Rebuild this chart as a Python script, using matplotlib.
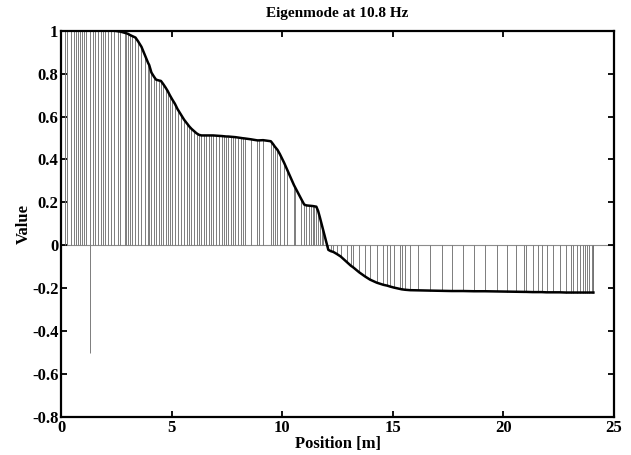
import numpy as np
import matplotlib
matplotlib.use("Agg")
import matplotlib.pyplot as plt
from matplotlib.ticker import FuncFormatter

# mode shape samples (position [m], value)
pos_pos = [0.0, 0.19, 0.28, 0.44, 0.59, 0.65, 0.74, 0.86, 0.95, 1.04, 1.13, 1.30,
           1.43, 1.55, 1.67, 1.79, 1.89, 1.98, 2.12, 2.25, 2.40, 2.55, 2.67, 2.88,
           2.95, 3.03, 3.11, 3.21, 3.36, 3.48, 3.63, 3.81, 3.93, 3.98, 4.08, 4.20,
           4.29, 4.42, 4.51, 4.61, 4.72, 4.81, 4.91, 5.02, 5.14, 5.26, 5.41, 5.56,
           5.71, 5.80, 5.89, 6.01, 6.12, 6.23, 6.34, 6.46, 6.57, 6.68, 6.77, 6.87,
           7.02, 7.13, 7.28, 7.37, 7.47, 7.55, 7.67, 7.78, 7.88, 8.00, 8.12, 8.21,
           8.30, 8.58, 8.87, 8.94, 9.13, 9.48, 9.58, 9.66, 9.78, 9.89, 10.08, 10.23,
           10.53, 10.59, 10.86, 10.99, 11.09, 11.20, 11.32, 11.38, 11.44, 11.54,
           11.62, 11.70, 11.80, 11.86]
val_pos = [1.0, 1.0, 1.0, 1.0, 1.0, 1.0, 1.0, 1.0, 1.0, 1.0, 1.0, 1.0,
           1.0, 1.0, 1.0, 1.0, 1.0, 1.0, 1.0, 1.0, 1.0, 0.998, 0.996, 0.99,
           0.988, 0.985, 0.98, 0.975, 0.968, 0.95, 0.925, 0.88, 0.85, 0.84, 0.805, 0.785,
           0.772, 0.768, 0.766, 0.752, 0.735, 0.72, 0.70, 0.68, 0.66, 0.635, 0.61, 0.585,
           0.565, 0.553, 0.543, 0.532, 0.522, 0.515, 0.512, 0.512, 0.512, 0.512, 0.512, 0.512,
           0.511, 0.51, 0.509, 0.508, 0.507, 0.507, 0.506, 0.505, 0.504, 0.502, 0.50, 0.499,
           0.498, 0.494, 0.489, 0.489, 0.49, 0.485, 0.472, 0.46, 0.445, 0.425, 0.385, 0.35,
           0.28, 0.268, 0.215, 0.19, 0.186, 0.185, 0.184, 0.183, 0.182, 0.18,
           0.16, 0.13, 0.09, 0.065]

pos_neg = [12.08, 12.19, 12.31, 12.46, 12.64, 12.94, 13.10, 13.21, 13.48, 13.74,
           13.97, 14.27, 14.57, 14.75, 14.87, 15.05, 15.33, 15.40, 15.55, 15.78,
           16.15, 16.68, 17.21, 17.66, 18.18, 18.67, 19.17, 19.69, 20.17, 20.57,
           20.93, 21.02, 21.32, 21.58, 21.73, 21.95, 22.25, 22.55, 22.83, 23.04,
           23.16, 23.31, 23.46, 23.58, 23.69, 23.76, 23.88, 23.99, 24.03, 24.07]
val_neg = [-0.021, -0.027, -0.031, -0.04, -0.052, -0.08, -0.095, -0.103, -0.126, -0.145,
           -0.16, -0.174, -0.184, -0.188, -0.192, -0.197, -0.203, -0.205, -0.207, -0.209,
           -0.21, -0.211, -0.212, -0.213, -0.213, -0.214, -0.214, -0.215, -0.216, -0.217,
           -0.217, -0.217, -0.218, -0.218, -0.218, -0.219, -0.219, -0.219, -0.22, -0.22,
           -0.22, -0.22, -0.22, -0.22, -0.22, -0.22, -0.22, -0.22, -0.22, -0.22]

# single odd sample pointing down
outlier_pos = [1.30]
outlier_val = [-0.5]

x_ticks = [0, 5, 10, 15, 20, 25]
y_ticks = [-0.8, -0.6, -0.4, -0.2, 0, 0.2, 0.4, 0.6, 0.8, 1]

plt.rcParams['font.family'] = ['Liberation Serif', 'DejaVu Serif']
plt.rcParams['font.weight'] = 'bold'
plt.rcParams['axes.unicode_minus'] = False

x = np.array(pos_pos + pos_neg)
y = np.array(val_pos + val_neg)

fig = plt.figure(figsize=(6.31, 4.55), dpi=100)
ax = fig.add_axes([0.097, 0.0835, 0.876, 0.849])

ax.axhline(0, color='0.55', lw=0.8, zorder=1)
ax.vlines(x, 0, y, color='0.45', lw=0.65, zorder=2)
ax.vlines(outlier_pos, 0, outlier_val, color='0.45', lw=0.65, zorder=2)
ax.plot(x, y, color='black', lw=1.8, zorder=3)

ax.set_xlim(0, 25)
ax.set_ylim(-0.8, 1)
ax.set_xticks(x_ticks)
ax.set_yticks(y_ticks)
ax.yaxis.set_major_formatter(FuncFormatter(lambda v, p: '%g' % round(v, 2)))
ax.tick_params(direction='in', length=4, width=1.3, top=True, right=True,
               labelsize=12, pad=2)
for lab in ax.get_xticklabels() + ax.get_yticklabels():
    lab.set_fontweight('bold')
for s in ax.spines.values():
    s.set_linewidth(1.6)

ax.set_title('Eigenmode at 10.8 Hz', fontsize=11, fontweight='bold', pad=10)
ax.set_xlabel('Position [m]', fontsize=12, fontweight='bold', labelpad=0)
ax.set_ylabel('Value', fontsize=12, fontweight='bold', labelpad=0)

fig.savefig('out.png', dpi=100)
